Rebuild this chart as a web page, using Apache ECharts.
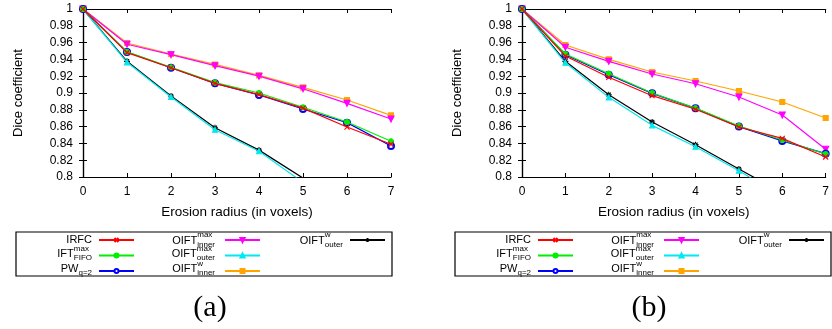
<!DOCTYPE html>
<html><head><meta charset="utf-8">
<script src="https://cdn.jsdelivr.net/npm/echarts@6/dist/echarts.min.js"></script>
<style>html,body{margin:0;padding:0;background:#fff}#c{width:832px;height:329px}</style>
</head><body><div id="c"></div>
<script>
// ---- data ----
const xValues = [0, 1, 2, 3, 4, 5, 6, 7];
const seriesNames = ['IRFC', 'IFT_FIFO_max', 'PW_q2', 'OIFT_inner_max', 'OIFT_outer_max', 'OIFT_inner_w', 'OIFT_outer_w'];
// panel (a)
const irfcA        = [1, 0.948, 0.930, 0.9115, 0.898, 0.882, 0.8595, 0.839];
const iftFifoA     = [1, 0.949, 0.9306, 0.9123, 0.900, 0.883, 0.8655, 0.8425];
const pwA          = [1, 0.9488, 0.930, 0.9115, 0.8976, 0.881, 0.8647, 0.837];
const oiftMaxInA   = [1, 0.958, 0.9456, 0.9325, 0.920, 0.905, 0.8877, 0.869];
const oiftMaxOutA  = [1, 0.9365, 0.8952, 0.8563, 0.8306, 0.7936, 0.762, 0.733];
const oiftWInA     = [1, 0.9595, 0.9464, 0.934, 0.921, 0.9067, 0.8917, 0.8734];
const oiftWOutA    = [1, 0.9377, 0.8964, 0.8587, 0.832, 0.7987, 0.767, 0.738];
// panel (b)
const irfcB        = [1, 0.944, 0.9187, 0.8968, 0.8806, 0.8595, 0.846, 0.8238];
const iftFifoB     = [1, 0.9464, 0.923, 0.900, 0.882, 0.8607, 0.844, 0.8274];
const pwB          = [1, 0.9456, 0.9218, 0.8996, 0.8817, 0.860, 0.843, 0.8278];
const oiftMaxInB   = [1, 0.9544, 0.9377, 0.9226, 0.911, 0.8952, 0.8738, 0.833];
const oiftMaxOutB  = [1, 0.936, 0.8948, 0.8615, 0.836, 0.8075, 0.776, 0.748];
const oiftWInB     = [1, 0.9571, 0.940, 0.925, 0.9143, 0.9024, 0.8893, 0.8702];
const oiftWOutB    = [1, 0.9377, 0.898, 0.8655, 0.8385, 0.8095, 0.781, 0.755];
// text
const xAxisTitle = 'Erosion radius (in voxels)';
const yAxisTitle = 'Dice coefficient';
const panelTitles = ['(a)', '(b)'];
const legendMain = ['IRFC', 'IFT', 'PW', 'OIFT', 'OIFT', 'OIFT', 'OIFT'];
const legendSup  = ['', 'max', '', 'max', 'max', 'w', 'w'];
const legendSub  = ['', 'FIFO', 'q=2', 'inner', 'outer', 'inner', 'outer'];

// ---- styles ----
const colors = ['#ff0000', '#00ee00', '#0000ff', '#ff00ff', '#00e8f0', '#ffa500', '#000000'];
const symbols = [
  'path://M0,0L10,10M10,0L0,10',
  'circle',
  'emptyCircle',
  'path://M0,0L10,0L5,8.66Z',
  'triangle',
  'rect',
  'path://M5,0L5,10M0,5L10,5M1.5,1.5L8.5,8.5M8.5,1.5L1.5,8.5'
];
const symbolSizes = [5, 5, 6, 6, 5, 5, 6];
const panelData = [
  [irfcA, iftFifoA, pwA, oiftMaxInA, oiftMaxOutA, oiftWInA, oiftWOutA],
  [irfcB, iftFifoB, pwB, oiftMaxInB, oiftMaxOutB, oiftWInB, oiftWOutB]
];
const fontSans = '"Liberation Sans", Arial, sans-serif';
const panelOffset = [0, 439];
const gridLeft = 83, gridTop = 9, gridH = 168;
const gridWidths = [308, 309];

const grids = [], xAxes = [], yAxes = [], series = [], graphics = [], legends = [];
const axisTickIn = {show: true, inside: true, length: 4, lineStyle: {color: '#000', width: 1}};
const axisLineS = {show: true, lineStyle: {color: '#000', width: 1.2}};
const canvas = document.createElement('canvas');
const ctx = canvas.getContext('2d');
const measure = (t, size) => { ctx.font = size + 'px "Liberation Sans"'; return ctx.measureText(t).width; };

for (let p = 0; p < 2; p++) {
  const off = panelOffset[p];
  grids.push({left: gridLeft + off, top: gridTop, width: gridWidths[p], height: gridH, containLabel: false});
  xAxes.push({
    type: 'value', gridIndex: p, min: 0, max: 7, interval: 1, position: 'bottom',
    axisLine: axisLineS, axisTick: axisTickIn, splitLine: {show: false},
    axisLabel: {color: '#000', fontSize: 12, fontFamily: fontSans, margin: 9},
    name: xAxisTitle, nameLocation: 'middle', nameGap: 28,
    nameTextStyle: {color: '#000', fontSize: 13.5, fontFamily: fontSans}
  });
  xAxes.push({
    type: 'value', gridIndex: p, min: 0, max: 7, interval: 1, position: 'top',
    axisLine: axisLineS, axisTick: axisTickIn, splitLine: {show: false}, axisLabel: {show: false}
  });
  yAxes.push({
    type: 'value', gridIndex: p, min: 0.8, max: 1, interval: 0.02, position: 'left',
    axisLine: axisLineS, axisTick: axisTickIn, splitLine: {show: false},
    axisLabel: {color: '#000', fontSize: 12, fontFamily: fontSans, margin: 10},
    name: yAxisTitle, nameLocation: 'middle', nameGap: 58,
    nameTextStyle: {color: '#000', fontSize: 13, fontFamily: fontSans}
  });
  yAxes.push({
    type: 'value', gridIndex: p, min: 0.8, max: 1, interval: 0.02, position: 'right',
    axisLine: axisLineS, axisTick: axisTickIn, splitLine: {show: false}, axisLabel: {show: false}
  });
  for (let s = 0; s < 7; s++) {
    const vals = panelData[p][s];
    series.push({
      type: 'line', name: seriesNames[s], xAxisIndex: p * 2, yAxisIndex: p * 2,
      data: xValues.map((x, i) => [x, vals[i]]),
      symbol: symbols[s], symbolSize: symbolSizes[s], showSymbol: true, showAllSymbol: true,
      clip: true, z: 10 - s,
      lineStyle: {color: colors[s], width: 1.2},
      itemStyle: {color: colors[s], borderColor: colors[s], borderWidth: 1.1},
      emphasis: {disabled: true}
    });
  }
  // legend columns (icons)
  const colX = [98, 224, 349];
  const colItems = [[0, 1, 2], [3, 4, 5], [6]];
  for (let c = 0; c < 3; c++) {
    legends.push({
      orient: 'vertical', left: colX[c] + off, top: 237, padding: 0,
      itemWidth: 35, itemHeight: 5, itemGap: 9.5, selectedMode: false,
      formatter: () => '', textStyle: {fontSize: 4, lineHeight: 4},
      data: colItems[c].map(i => seriesNames[i])
    });
  }
  // legend box
  graphics.push({type: 'rect', shape: {x: 16 + off, y: 232, width: 376, height: 44},
    style: {fill: 'none', stroke: '#000', lineWidth: 1.2}, silent: true});
  // legend labels
  const colEnd = [92, 215, 343];
  const rowY = [240, 253.5, 268.5];
  for (let c = 0; c < 3; c++) {
    colItems[c].forEach((i, r) => {
      const main = legendMain[i], sup = legendSup[i], sub = legendSub[i];
      const wm = measure(main, 11);
      const ws = Math.max(sup ? measure(sup, 8) : 0, sub ? measure(sub, 8) : 0);
      const x0 = colEnd[c] + off - wm - ws;
      const y = rowY[r];
      const scripted = !!(sup || sub);
      graphics.push({type: 'text', x: x0, y: y + (scripted ? 0.5 : 0), silent: true,
        style: {text: main, font: '11px ' + fontSans, fill: '#000', textAlign: 'left', textVerticalAlign: 'middle'}});
      if (sup) graphics.push({type: 'text', x: x0 + wm, y: y - 5, silent: true,
        style: {text: sup, font: '8px ' + fontSans, fill: '#000', textAlign: 'left', textVerticalAlign: 'middle'}});
      if (sub) graphics.push({type: 'text', x: x0 + wm, y: y + 4.5, silent: true,
        style: {text: sub, font: '8px ' + fontSans, fill: '#000', textAlign: 'left', textVerticalAlign: 'middle'}});
    });
  }
  // panel title
  graphics.push({type: 'text', x: 210 + off, y: 308, silent: true,
    style: {text: panelTitles[p], font: '30px "Liberation Serif", "Times New Roman", serif', fill: '#000',
      textAlign: 'center', textVerticalAlign: 'middle'}});
}

const chart = echarts.init(document.getElementById('c'), null, {renderer: 'canvas'});
chart.setOption({
  animation: false,
  backgroundColor: '#fff',
  grid: grids, xAxis: xAxes, yAxis: yAxes, series: series,
  legend: legends, graphic: graphics
});
</script></body></html>
